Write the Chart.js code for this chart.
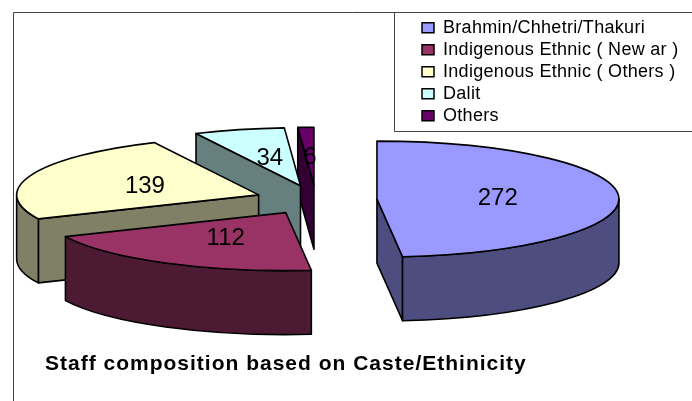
<!DOCTYPE html>
<html>
<head>
<meta charset="utf-8">
<style>html,body{margin:0;padding:0;background:#fff}#w{width:692px;height:401px;position:relative}</style>
<script src="https://cdn.jsdelivr.net/npm/chart.js@4"></script>
</head>
<body>
<div id="w"><canvas id="c" width="692" height="401"></canvas></div>
<script>
const categories = ['Brahmin/Chhetri/Thakuri','Indigenous Ethnic ( New ar )','Indigenous Ethnic ( Others )','Dalit','Others'];
const values = [272,112,139,34,6];
const topColors = ['#9999FF','#993366','#FFFFCC','#CCFFFF','#660066'];
const wallColors = ['#4D4D80','#4D1A33','#808066','#668080','#330033'];
const chartTitle = 'Staff composition based on Caste/Ethinicity';

const FONT = '"Liberation Sans", Arial, sans-serif';
const PIE = {rx:242, ry:58, depth:64, explode:0.2522, line:1.6};

function frame(arc){
  const p = arc.getProps(['x','y','startAngle','endAngle','outerRadius'], true);
  const mid = (p.startAngle+p.endAngle)/2;
  const sx = PIE.rx/p.outerRadius, sy = PIE.ry/p.outerRadius;
  const cx = p.x + Math.cos(mid)*PIE.explode*PIE.rx;
  const cy = p.y + Math.sin(mid)*PIE.explode*PIE.ry;
  return {p,mid,sx,sy,cx,cy};
}
function rimPoint(f,a){return [f.cx+Math.cos(a)*PIE.rx, f.cy+Math.sin(a)*PIE.ry];}
function wallRay(ctx,f,a,color){
  const e = rimPoint(f,a);
  ctx.beginPath();
  ctx.moveTo(f.cx,f.cy);ctx.lineTo(e[0],e[1]);ctx.lineTo(e[0],e[1]+PIE.depth);ctx.lineTo(f.cx,f.cy+PIE.depth);ctx.closePath();
  ctx.fillStyle=color;ctx.fill();ctx.stroke();
}
function wallRim(ctx,f,a0,a1,color){
  if(a1<=a0) return;
  ctx.beginPath();
  ctx.ellipse(f.cx,f.cy,PIE.rx,PIE.ry,0,a0,a1,false);
  ctx.ellipse(f.cx,f.cy+PIE.depth,PIE.rx,PIE.ry,0,a1,a0,true);
  ctx.closePath();
  ctx.fillStyle=color;ctx.fill();ctx.stroke();
}
function spaced(box,ctx,spacing){
  const draw = box.draw;
  box.draw = function(){
    ctx.save();
    ctx.letterSpacing = spacing;
    draw.apply(box,arguments);
    ctx.restore();
  };
}
const pie3d = {
  id:'pie3d',
  afterInit(chart){
    spaced(chart.titleBlock,chart.ctx,'1px');
    spaced(chart.legend,chart.ctx,'0.3px');
  },
  afterLayout(chart){
    const l = chart.legend;
    const pad = chart.options.plugins.legend.labels.padding;
    l.left = 422-pad; l.right = l.left+260; l.top = 18.7-pad; l.bottom = l.top+120;
  },
  beforeDatasetsDraw(chart){
    const ctx = chart.ctx;
    ctx.save();
    ctx.strokeStyle='#444';ctx.lineWidth=1;
    ctx.beginPath();
    ctx.moveTo(13.5,401);ctx.lineTo(13.5,12.5);ctx.lineTo(692,12.5);
    ctx.moveTo(394.5,12.5);ctx.lineTo(394.5,131.5);ctx.lineTo(692,131.5);
    ctx.stroke();
    ctx.restore();
  },
  beforeDatasetDraw(chart,args){
    const ctx = chart.ctx, meta = args.meta;
    const frames = meta.data.map((arc,i)=>({arc,i,f:frame(arc)}));
    frames.sort((a,b)=>a.f.cy-b.f.cy);
    ctx.save();
    ctx.lineJoin='round';
    frames.forEach(({arc,i,f})=>{
      const s=f.p.startAngle,e=f.p.endAngle;
      ctx.strokeStyle='#000';ctx.lineWidth=PIE.line;
      if(Math.cos(s)<-1e-6) wallRay(ctx,f,s,wallColors[i]);
      if(Math.cos(e)>1e-6) wallRay(ctx,f,e,wallColors[i]);
      wallRim(ctx,f,Math.max(s,0),Math.min(e,Math.PI),wallColors[i]);
      ctx.save();
      ctx.translate(f.cx,f.cy);ctx.scale(f.sx,f.sy);ctx.translate(-f.p.x,-f.p.y);
      arc.draw(ctx);
      ctx.restore();
      ctx.strokeStyle='#000';ctx.lineWidth=PIE.line;
      ctx.beginPath();
      ctx.moveTo(f.cx,f.cy);
      ctx.ellipse(f.cx,f.cy,PIE.rx,PIE.ry,0,s,e,false);
      ctx.closePath();ctx.stroke();
    });
    ctx.restore();
    return false;
  },
  afterDatasetsDraw(chart){
    const ctx = chart.ctx, meta = chart.getDatasetMeta(0);
    ctx.save();
    ctx.fillStyle='#000';ctx.font='24px '+FONT;ctx.textAlign='center';ctx.textBaseline='middle';
    meta.data.forEach((arc,i)=>{
      const f=frame(arc);
      ctx.fillText(String(values[i]), f.cx+Math.cos(f.mid)*PIE.rx*0.5, f.cy+Math.sin(f.mid)*PIE.ry*0.5+1);
    });
    ctx.restore();
  }
};
new Chart(document.getElementById('c'),{
  type:'pie',
  data:{labels:categories,datasets:[{data:values,backgroundColor:topColors,borderWidth:0,borderColor:'#000'}]},
  plugins:[pie3d],
  options:{
    responsive:false,animation:false,
    layout:{padding:{left:45,right:105,top:53,bottom:19}},
    events:[],
    plugins:{
      tooltip:{enabled:false},
      legend:{
        display:true,position:'chartArea',align:'start',
        labels:{
          boxWidth:12,boxHeight:10,padding:4,color:'#000',
          font:{family:FONT,size:18},
          generateLabels(chart){
            return Chart.overrides.pie.plugins.legend.labels.generateLabels(chart)
              .map(l=>Object.assign(l,{lineWidth:1.5,strokeStyle:'#000'}));
          }
        }
      },
      title:{
        display:true,text:chartTitle,position:'bottom',align:'start',color:'#000',
        font:{family:FONT,size:21,weight:'bold'},padding:{top:5,bottom:5}
      }
    }
  }
});
</script>
</body>
</html>
